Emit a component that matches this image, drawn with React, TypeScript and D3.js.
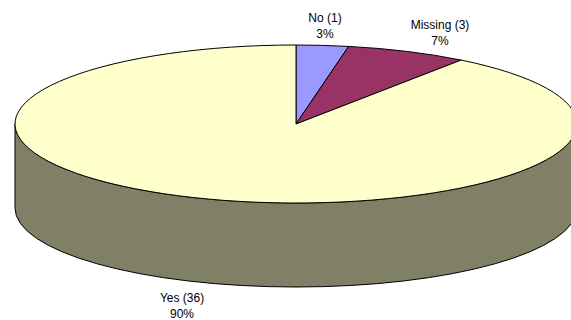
import React from "react";
import * as d3 from "d3";

// Survey responses: counts shown in the labels, shares that size the slices.
const categories = ["No", "Missing", "Yes"];
const counts = [1, 3, 36];
const percents = [3, 7, 90];
const sliceColors = ["#9999FF", "#993366", "#FFFFCC"];
const wallColor = "#808066";

const WIDTH = 571;
const HEIGHT = 320;
const CX = 296;
const CY = 124;
const RX = 281;
const RY = 79;
const DEPTH = 84;
const UNIT = 100;

// Label anchors, placed by hand around the disc.
const labelSpots = [
  { x: 325, y: 22 },
  { x: 440, y: 29 },
  { x: 182, y: 302 },
];

export default function App() {
  const slices = d3.pie<number>().sort(null).startAngle(0).endAngle(2 * Math.PI)(percents);
  const arc = d3.arc<d3.PieArcDatum<number>>().innerRadius(0).outerRadius(UNIT);
  const sx = d3.scaleLinear().domain([-UNIT, UNIT]).range([CX - RX, CX + RX]);

  const wall =
    `M${sx(-UNIT)},${CY}` +
    `A${RX},${RY} 0 0 0 ${sx(UNIT)},${CY}` +
    `L${sx(UNIT)},${CY + DEPTH}` +
    `A${RX},${RY} 0 0 1 ${sx(-UNIT)},${CY + DEPTH}Z`;

  return (
    <svg
      width={WIDTH}
      height={HEIGHT}
      style={{ position: "absolute", left: 0, top: 0, background: "#fff" }}
      fontFamily="'Liberation Sans', Arial, sans-serif"
      fontSize={12}
    >
      <path d={wall} fill={wallColor} stroke="#000" strokeWidth={1} />
      <g transform={`translate(${CX},${CY}) scale(${RX / UNIT},${RY / UNIT})`}>
        {slices.map((s, i) => (
          <path
            key={categories[i]}
            d={arc(s) ?? ""}
            fill={sliceColors[i]}
            stroke="#000"
            strokeWidth={1}
            vectorEffect="non-scaling-stroke"
          />
        ))}
      </g>
      {categories.map((c, i) => (
        <text key={c} x={labelSpots[i].x} y={labelSpots[i].y} textAnchor="middle" fill="#000">
          <tspan x={labelSpots[i].x}>{`${c} (${counts[i]})`}</tspan>
          <tspan x={labelSpots[i].x} dy={15.5}>{`${percents[i]}%`}</tspan>
        </text>
      ))}
    </svg>
  );
}
